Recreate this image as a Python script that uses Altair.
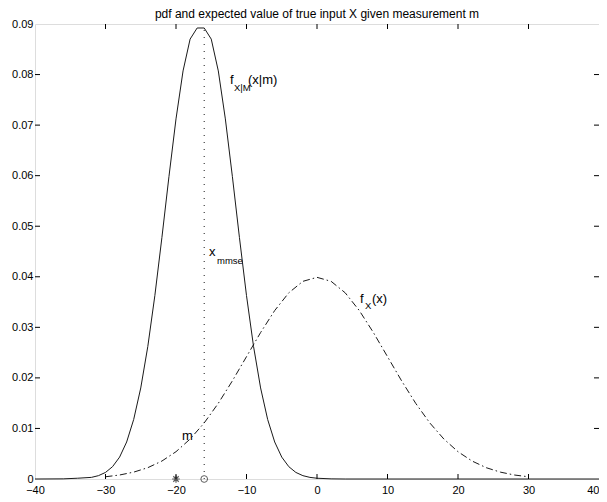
import altair as alt
import pandas as pd

TITLE = "pdf and expected value of true input X given measurement m"

# Prior pdf f_X(x) (dash-dot curve)
prior_x = [-30, -28, -26, -24, -22, -20, -18, -16, -14, -12, -10, -8, -6, -4, -2, 0,
           2, 4, 6, 8, 10, 12, 14, 16, 18, 20, 22, 24, 26, 28, 30]
prior_y = [0.00044, 0.00079, 0.00136, 0.00224, 0.00355, 0.00540, 0.00790, 0.01109,
           0.01497, 0.01942, 0.02420, 0.02897, 0.03332, 0.03683, 0.03910, 0.03989,
           0.03910, 0.03683, 0.03332, 0.02897, 0.02420, 0.01942, 0.01497, 0.01109,
           0.00790, 0.00540, 0.00355, 0.00224, 0.00136, 0.00079, 0.00044]

# Posterior pdf f_X|M(x|m) (solid curve)
post_x = [-40, -36, -34, -32, -31, -30, -29, -28, -27, -26, -25, -24, -23, -22, -21, -20,
          -19, -18, -17, -16, -15, -14, -13, -12, -11, -10, -9, -8, -7, -6, -5, -4,
          -3, -2, -1, 0, 2, 4, 10, 20, 30, 40]
post_y = [0.0, 0.00003, 0.00015, 0.00032, 0.00066, 0.00130, 0.00244, 0.00433, 0.00732,
          0.01178, 0.01801, 0.02621, 0.03627, 0.04775, 0.05980, 0.07123, 0.08072,
          0.08701, 0.08921, 0.08921, 0.08701, 0.08072, 0.07123, 0.05980, 0.04775,
          0.03627, 0.02621, 0.01801, 0.01178, 0.00732, 0.00433, 0.00244, 0.00130,
          0.00066, 0.00032, 0.00015, 0.00003, 0.0, 0.0, 0.0, 0.0, 0.0]
post_y = post_y[:len(post_x)]

x_mmse = -16.0
x_mmse_peak = 0.0892
m_value = -20.0

x_ticks = [-40, -30, -20, -10, 0, 10, 20, 30, 40]
y_ticks = [0, 0.01, 0.02, 0.03, 0.04, 0.05, 0.06, 0.07, 0.08, 0.09]

label_text = ["f", "X|M", "(x|m)", "x", "mmse", "f", "X", "(x)", "m"]
label_x = [-12.34, -11.77, -9.79, -15.32, -14.18, 6.10, 6.81, 7.80, -19.15]
label_y = [0.0789, 0.0773, 0.0789, 0.0449, 0.0431, 0.0356, 0.0342, 0.0356, 0.0085]
label_size = [13, 9.5, 13, 13, 9.5, 13, 9.5, 13, 13]

W, H = 564, 455
FONT = "Liberation Sans"
INK = "#1a1a1a"

xs = alt.Scale(domain=[-40, 40], nice=False, zero=False)
ys = alt.Scale(domain=[0, 0.09], nice=False, zero=False)

prior_df = pd.DataFrame({"x": prior_x, "y": prior_y})
post_df = pd.DataFrame({"x": post_x, "y": post_y})
lab_df = pd.DataFrame({"t": label_text, "x": label_x, "y": label_y, "s": label_size})

X = alt.X("x:Q", scale=xs, title=None,
          axis=alt.Axis(values=x_ticks, tickSize=0, domain=False, grid=False,
                        labelFont=FONT, labelFontSize=11, labelColor="black",
                        labelPadding=5, format="d", labelFlush=False,
                        labelAlign={"condition": {"test": "datum.value == 40", "value": "right"},
                                    "value": "center"}))
Y = alt.Y("y:Q", scale=ys, title=None,
          axis=alt.Axis(values=y_ticks, tickSize=0, domain=False, grid=False,
                        labelFont=FONT, labelFontSize=11, labelColor="black",
                        labelPadding=2,
                        labelExpr="datum.value == 0 ? '0' : format(datum.value, '.2f')"))

post_line = alt.Chart(post_df).mark_line(color=INK, strokeWidth=1).encode(x=X, y=Y)
prior_line = alt.Chart(prior_df).mark_line(color=INK, strokeWidth=1,
                                           strokeDash=[7, 3, 1.5, 3]).encode(x="x:Q", y="y:Q")

vline = alt.Chart(pd.DataFrame({"x": [x_mmse], "y": [0.0], "y2": [x_mmse_peak]})).mark_rule(
    color=INK, strokeWidth=1, strokeDash=[1, 6]).encode(x="x:Q", y="y:Q", y2="y2:Q")

circle = alt.Chart(pd.DataFrame({"x": [x_mmse], "y": [0.0]})).mark_point(
    shape="circle", filled=False, color=INK, size=45, strokeWidth=1).encode(x="x:Q", y="y:Q")

star = alt.Chart(pd.DataFrame({"x": [m_value], "y": [0.0]})).mark_point(
    shape="M-1,0L1,0M0,-1L0,1M-0.7,-0.7L0.7,0.7M-0.7,0.7L0.7,-0.7",
    filled=False, color=INK, size=60, strokeWidth=1.2).encode(x="x:Q", y="y:Q")

labels = alt.Chart(lab_df).mark_text(align="left", baseline="middle", font=FONT,
                                     color="black").encode(
    x="x:Q", y="y:Q", text="t:N", size=alt.Size("s:Q", scale=None, legend=None))

title_mark = alt.Chart(pd.DataFrame({"t": [TITLE]})).mark_text(
    align="center", baseline="alphabetic", font=FONT, fontSize=12, color="black").encode(
    x=alt.value(W / 2), y=alt.value(-6.5), text="t:N")

tick_x_df = pd.DataFrame({"x": x_ticks[1:-1]})
tick_y_df = pd.DataFrame({"y": y_ticks[1:-1]})
tb = alt.Chart(tick_x_df).mark_rule(color="black", strokeWidth=1).encode(
    x="x:Q", y=alt.value(H), y2=alt.value(H - 5))
tt = alt.Chart(tick_x_df).mark_rule(color="black", strokeWidth=1).encode(
    x="x:Q", y=alt.value(0), y2=alt.value(5))
tl = alt.Chart(tick_y_df).mark_rule(color="black", strokeWidth=1).encode(
    y="y:Q", x=alt.value(0), x2=alt.value(5))
tr = alt.Chart(tick_y_df).mark_rule(color="black", strokeWidth=1).encode(
    y="y:Q", x=alt.value(W), x2=alt.value(W - 5))

chart = alt.layer(post_line, prior_line, vline, circle, star, labels, title_mark,
                  tb, tt, tl, tr).properties(
    width=W, height=H,
    autosize="none",
    padding={"left": 27, "top": 16, "right": 0, "bottom": 15},
).configure_view(stroke="black", strokeWidth=1).configure(background="white")

chart.save("out.html", embed_options={"renderer": "svg", "actions": False})
